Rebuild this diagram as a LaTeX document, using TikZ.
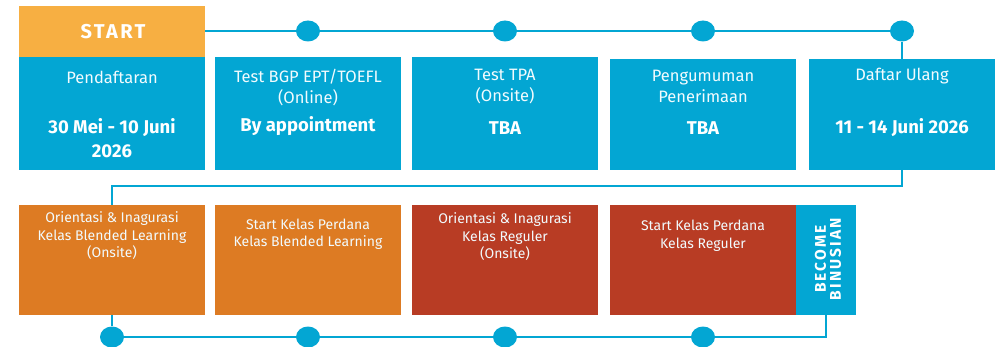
\documentclass[tikz,border=0pt]{standalone}
\usepackage{fontspec}
\setmainfont{Fira Sans}
\newfontfamily\spacedfont[LetterSpace=12]{Fira Sans}
\newfontfamily\spacedwide[LetterSpace=14]{Fira Sans}
\usetikzlibrary{backgrounds,shapes.geometric}
\definecolor{cblue}{HTML}{03A6D3}
\definecolor{cstart}{HTML}{F7AF42}
\definecolor{corange}{HTML}{DD7B23}
\definecolor{cred}{HTML}{B83C24}
\definecolor{ctext}{HTML}{F2FBFE}
\begin{document}
\begin{tikzpicture}[x=1pt,y=-1pt,
  box/.style={rectangle, inner sep=0pt, outer sep=0pt, anchor=north west},
  dot/.style={ellipse, fill=cblue, inner sep=0pt, minimum width=24pt, minimum height=21pt},
  link/.style={draw=cblue, line width=2.2pt},
  lt/.style={text=ctext, align=center, inner sep=0pt, font=\fontsize{16.5}{21}\selectfont},
  bt/.style={text=white, align=center, inner sep=0pt, font=\fontsize{18.5}{24}\selectfont\bfseries},
  st/.style={text=ctext, align=center, inner sep=0pt, font=\fontsize{14}{17.5}\selectfont}
]
\useasboundingbox (0,0) rectangle (995,347);

% top row
\node[box, fill=cstart, minimum width=186pt, minimum height=51pt] (start) at (19,6) {};
\node[text=white, inner sep=0pt, font=\spacedfont\fontsize{20}{22}\selectfont\bfseries] (startlbl) at (113,32) {START};

\node[box, fill=cblue, minimum width=186pt, minimum height=113pt] (t1) at (19,57) {};
\node[box, fill=cblue, minimum width=186pt, minimum height=113pt] (t2) at (215,57) {};
\node[box, fill=cblue, minimum width=186pt, minimum height=113pt] (t3) at (412,57) {};
\node[box, fill=cblue, minimum width=186pt, minimum height=111pt] (t4) at (610,59) {};
\node[box, fill=cblue, minimum width=186pt, minimum height=111pt] (t5) at (809,59) {};

\node[lt] (t1a) at (112,77) {Pendaftaran};
\node[bt] (t1b) at (112,138) {30 Mei - 10 Juni\\2026};
\node[lt] (t2a) at (308,87.5) {Test BGP EPT/TOEFL\\(Online)};
\node[bt] (t2b) at (308,126) {By appointment};
\node[lt] (t3a) at (505,86.5) {Test TPA\\(Onsite)};
\node[bt] (t3b) at (505,128) {TBA};
\node[lt] (t4a) at (703,86) {Pengumuman\\Penerimaan};
\node[bt] (t4b) at (703,128) {TBA};
\node[lt] (t5a) at (902,76) {Daftar Ulang};
\node[bt] (t5b) at (902,128) {11 - 14 Juni 2026};

% top dots
\node[dot] (d1) at (308,31) {};
\node[dot] (d2) at (505,31) {};
\node[dot] (d3) at (703,31) {};
\node[dot] (d4) at (902,31) {};
\coordinate (c1) at (902,186);
\coordinate (c2) at (112,186);

% bottom row
\node[box, fill=corange, minimum width=186pt, minimum height=110pt] (b1) at (19,205) {};
\node[box, fill=corange, minimum width=186pt, minimum height=110pt] (b2) at (215,205) {};
\node[box, fill=cred, minimum width=186pt, minimum height=110pt] (b3) at (412,205) {};
\node[box, fill=cred, minimum width=186pt, minimum height=110pt] (b4) at (610,205) {};
\node[box, fill=cblue, minimum width=60pt, minimum height=110pt] (b5) at (796,205) {};

\node[st] (b1t) at (112,236) {Orientasi \& Inagurasi\\Kelas Blended Learning\\(Onsite)};
\node[st] (b2t) at (308,234) {Start Kelas Perdana\\Kelas Blended Learning};
\node[st] (b3t) at (505,237) {Orientasi \& Inagurasi\\Kelas Reguler\\(Onsite)};
\node[st] (b4t) at (703,235.5) {Start Kelas Perdana\\Kelas Reguler};
\node[text=white, align=center, inner sep=0pt, rotate=90, font=\spacedwide\fontsize{15.5}{15}\selectfont\bfseries] (b5t) at (828,259) {BECOME\\BINUSIAN};

% bottom dots
\node[dot] (e1) at (112,337) {};
\node[dot] (e2) at (308,337) {};
\node[dot] (e3) at (505,337) {};
\node[dot] (e4) at (703,337) {};
\coordinate (c3) at (826,336);

\begin{pgfonlayer}{background}
  \draw[link] (start.east |- d1) -- (d1) -- (d2) -- (d3) -- (d4);
  \draw[link] (d4) -- (c1) -- (c2) -- (e1);
  \draw[link] (e1) -- (e2) -- (e3) -- (e4) -- (e4 -| c3) -- (b5.south -| c3);
\end{pgfonlayer}
\end{tikzpicture}
\end{document}
